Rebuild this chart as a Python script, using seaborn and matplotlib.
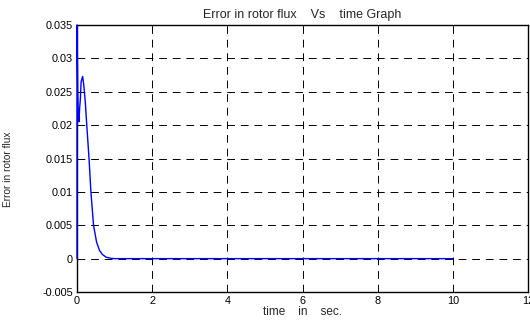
import matplotlib
matplotlib.use("Agg")
import matplotlib.pyplot as plt
import seaborn as sns
import pandas as pd

time_s = [0.0, 0.0005, 0.01, 0.02, 0.035, 0.05, 0.07, 0.09, 0.11, 0.15, 0.18, 0.22, 0.26,
          0.32, 0.37, 0.44, 0.52, 0.60, 0.68, 0.78, 0.9, 1.0, 1.5, 3.0, 6.0, 10.0]
rotor_flux_error = [0.0, 0.035, 0.0305, 0.025, 0.0215, 0.0205, 0.0225, 0.024, 0.0265, 0.0273, 0.026,
                    0.0235, 0.0200, 0.0150, 0.0100, 0.0050, 0.0025, 0.0012, 0.0006, 0.0002,
                    0.00005, 0.0, 0.0, 0.0, 0.0, 0.0]
x_ticks = [0, 2, 4, 6, 8, 10, 12]
y_ticks = [-0.005, 0, 0.005, 0.01, 0.015, 0.02, 0.025, 0.03, 0.035]
y_tick_labels = ["-0.005", "0", "0.005", "0.01", "0.015", "0.02", "0.025", "0.03", "0.035"]

sns.set_style("white")
plt.rcParams["font.family"] = ["Liberation Sans", "DejaVu Sans"]

df = pd.DataFrame({"t": time_s, "e": rotor_flux_error})

fig = plt.figure(figsize=(5.30, 3.22), dpi=100)
ax = fig.add_axes([77 / 530, 1 - 292 / 322, (528 - 77) / 530, (292 - 25) / 322])
sns.lineplot(data=df, x="t", y="e", ax=ax, color="#0000ff", linewidth=1.0, estimator=None, sort=False)
for ln in ax.lines:
    ln.set_clip_on(False)
    ln.set_zorder(3)

ax.set_xlim(0, 12)
ax.set_ylim(-0.005, 0.035)
ax.set_xticks(x_ticks)
ax.set_xticklabels([str(v) for v in x_ticks])
ax.set_yticks(y_ticks)
ax.set_yticklabels(y_tick_labels)
ax.tick_params(direction="in", length=3, width=0.8, labelsize=7.8, colors="black", pad=3)
ax.grid(True, color="black", linestyle=(0, (8, 6)), linewidth=0.7)
for s in ax.spines.values():
    s.set_color("black")
    s.set_linewidth(1.0)
ax.set_title("Error in rotor flux    Vs    time Graph", fontsize=9, pad=5)
ax.set_xlabel("time    in    sec.", fontsize=8.5, labelpad=0)
ax.set_ylabel("Error in rotor flux", fontsize=7.3)
ax.yaxis.set_label_coords(-0.142, 0.46)

fig.savefig("out.png", dpi=100)
